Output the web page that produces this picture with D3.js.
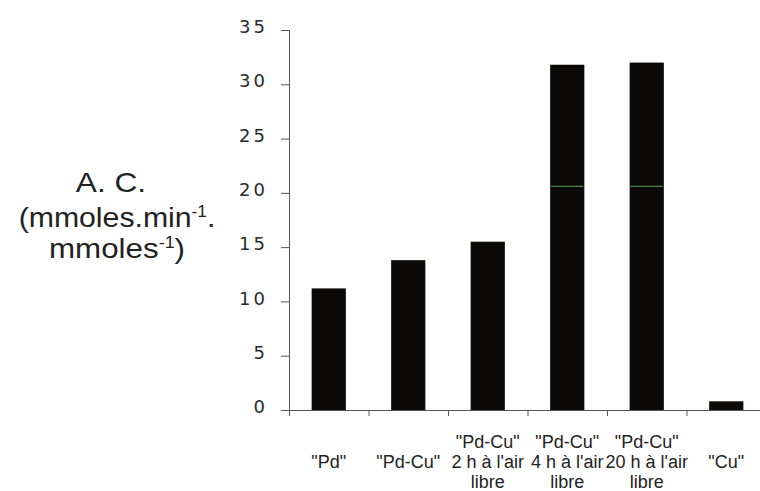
<!DOCTYPE html>
<html>
<head>
<meta charset="utf-8">
<script src="https://cdn.jsdelivr.net/npm/d3@7"></script>
<style>
  html, body { margin: 0; padding: 0; background: #fff; }
  svg { display: block; }
</style>
</head>
<body>
<svg id="chart" width="760" height="491"></svg>
<script>
// ---- data ----
const categories = ["Pd", "Pd-Cu", "Pd-Cu 2h", "Pd-Cu 4h", "Pd-Cu 20h", "Cu"];
const categoryLabels = [
  ['"Pd"'],
  ['"Pd-Cu"'],
  ['"Pd-Cu"', "2 h à l'air", "libre"],
  ['"Pd-Cu"', "4 h à l'air", "libre"],
  ['"Pd-Cu"', "20 h à l'air", "libre"],
  ['"Cu"']
];
const values = [11.2, 13.8, 15.5, 31.8, 32.0, 0.8];
const yTicks = [0, 5, 10, 15, 20, 25, 30, 35];
const markLevel = 20.6; // faint green line visible across the tallest bars

// ---- layout ----
const svg = d3.select("#chart");
const plotLeft = 289, plotRight = 766, plotTop = 30, plotBottom = 410;

const x = d3.scaleBand().domain(categories).range([plotLeft, plotRight]).padding(0);
const xEdges = d3.scaleLinear().domain([0, categories.length]).range([plotLeft, plotRight]);
const y = d3.scaleLinear().domain([0, 35]).range([plotBottom, plotTop]);
const barW = x.bandwidth() * 0.43;

// bars
svg.append("g").selectAll("rect")
  .data(categories)
  .join("rect")
  .attr("x", (d) => x(d) + (x.bandwidth() - barW) / 2)
  .attr("width", barW)
  .attr("y", (d, i) => y(values[i]))
  .attr("height", (d, i) => y(0) - y(values[i]))
  .attr("fill", "#0b0a09");

// green streak
svg.append("g").selectAll("line")
  .data(categories.filter((d, i) => values[i] > markLevel))
  .join("line")
  .attr("x1", (d) => x(d) + (x.bandwidth() - barW) / 2 + 1)
  .attr("x2", (d) => x(d) + (x.bandwidth() + barW) / 2 - 1)
  .attr("y1", y(markLevel)).attr("y2", y(markLevel))
  .attr("stroke", "#3f8a45").attr("stroke-width", 1.2);

// y axis
const yAxis = svg.append("g")
  .attr("transform", `translate(${plotLeft},0)`)
  .call(d3.axisLeft(y).tickValues(yTicks).tickSize(8).tickSizeOuter(8).tickPadding(13));
yAxis.select(".domain").attr("stroke", "#555").attr("stroke-width", 1);
yAxis.selectAll(".tick line").attr("stroke", "#555");
yAxis.selectAll(".tick text")
  .attr("font-family", "'DejaVu Sans', sans-serif")
  .attr("font-size", 18)
  .attr("letter-spacing", 3)
  .attr("fill", "#2a2a2a")
  .attr("dy", "0.15em");

// x axis (ticks at category boundaries)
const xAxis = svg.append("g")
  .attr("transform", `translate(0,${plotBottom})`)
  .call(d3.axisBottom(xEdges).tickValues(d3.range(categories.length + 1)).tickSize(6).tickSizeOuter(0).tickFormat(""));
xAxis.select(".domain").attr("stroke", "#555").attr("stroke-width", 1);
xAxis.selectAll(".tick line").attr("stroke", "#555");

// x labels
const lineH = 20;
const labelG = svg.append("g")
  .attr("font-family", "'Liberation Sans', Arial, sans-serif")
  .attr("font-size", 18)
  .attr("fill", "#222")
  .attr("text-anchor", "middle");
categories.forEach((c, i) => {
  const lines = categoryLabels[i];
  const cx = x(c) + x.bandwidth() / 2;
  const firstBase = 468 - (lines.length - 1) / 2 * lineH;
  const t = labelG.append("text");
  lines.forEach((ln, j) => {
    t.append("tspan").attr("x", cx).attr("y", firstBase + j * lineH).text(ln);
  });
});

// y title
const titleG = svg.append("g")
  .attr("font-family", "'Liberation Sans', Arial, sans-serif")
  .attr("font-size", 28)
  .attr("fill", "#222")
  .attr("text-anchor", "middle");
titleG.append("text").attr("transform", "translate(111,192) scale(1.13,1)").text("A. C.");
const t2 = titleG.append("text").attr("transform", "translate(117,227) scale(1.08,1)");
t2.append("tspan").text("(mmoles.min");
t2.append("tspan").attr("font-size", 16).attr("dy", -10).text("-1");
t2.append("tspan").attr("dy", 10).text(".");
const t3 = titleG.append("text").attr("transform", "translate(117,258) scale(1.12,1)");
t3.append("tspan").text("mmoles");
t3.append("tspan").attr("font-size", 16).attr("dy", -10).text("-1");
t3.append("tspan").attr("dy", 10).text(")");
</script>
</body>
</html>
